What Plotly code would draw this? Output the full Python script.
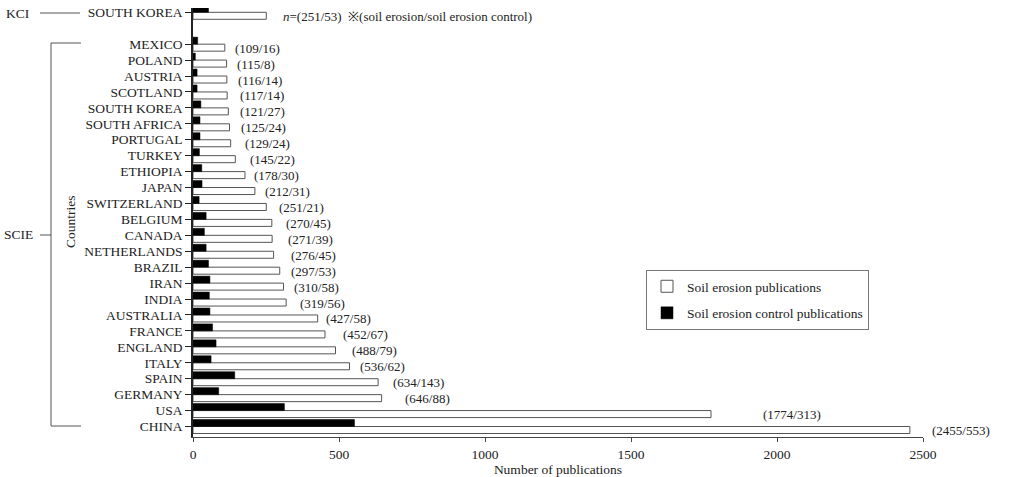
import plotly.graph_objects as go

# ---------------- data ----------------
scie_countries = ["CHINA", "USA", "GERMANY", "SPAIN", "ITALY", "ENGLAND", "FRANCE",
                  "AUSTRALIA", "INDIA", "IRAN", "BRAZIL", "NETHERLANDS", "CANADA",
                  "BELGIUM", "SWITZERLAND", "JAPAN", "ETHIOPIA", "TURKEY", "PORTUGAL",
                  "SOUTH AFRICA", "SOUTH KOREA", "SCOTLAND", "AUSTRIA", "POLAND", "MEXICO"]
scie_erosion = [2455, 1774, 646, 634, 536, 488, 452, 427, 319, 310, 297, 276, 271,
                270, 251, 212, 178, 145, 129, 125, 121, 117, 116, 115, 109]
scie_control = [553, 313, 88, 143, 62, 79, 67, 58, 56, 58, 53, 45, 39,
                45, 21, 31, 30, 22, 24, 24, 27, 14, 14, 8, 16]

kci_country = "SOUTH KOREA"
kci_erosion = 251
kci_control = 53

x_ticks = [0, 500, 1000, 1500, 2000, 2500]

# ---------------- layout helpers ----------------
# label horizontal shifts in pixels (layout only)
label_xshift = [20, 50, 21, 13, 8, 14, 16, 6, 12, 8, 9, 15, 14, 12, 11, 8, 7, 13, 12,
                9, 10, 11, 9, 8, 8]

FONT = "Liberation Serif, Times New Roman, serif"
TXT = "#222222"
W, H = 1031, 477
L, R, T, B = 193, 923, 8, 437


def px(p):
    return (p - L) / (R - L)


def py(q):
    return (B - q) / (B - T)


n = len(scie_countries)
positions = list(range(n)) + [n + 1]
labels = scie_countries + [kci_country]
erosion = scie_erosion + [kci_erosion]
control = scie_control + [kci_control]

fig = go.Figure()
fig.add_trace(go.Bar(
    y=positions, x=erosion, orientation="h", name="Soil erosion publications",
    legendgroup="a",
    marker=dict(color="white", line=dict(color="#555555", width=1)),
))
fig.add_trace(go.Bar(
    y=positions, x=control, orientation="h", name="Soil erosion control publications",
    legendgroup="b",
    marker=dict(color="black", line=dict(color="black", width=0.5)),
))

annotations = []
for i in range(n):
    annotations.append(dict(
        x=scie_erosion[i], y=positions[i], xref="x", yref="y",
        text=f"({scie_erosion[i]}/{scie_control[i]})", showarrow=False,
        xanchor="left", yanchor="middle", xshift=label_xshift[i], yshift=-4,
        font=dict(family=FONT, size=13, color=TXT),
    ))
annotations.append(dict(
    x=kci_erosion, y=n + 1, xref="x", yref="y",
    text=f"<i>n</i>=({kci_erosion}/{kci_control})  ※(soil erosion/soil erosion control)",
    showarrow=False, xanchor="left", yanchor="middle", xshift=15, yshift=-4,
    font=dict(family=FONT, size=13, color=TXT),
))
# left side group labels
annotations += [
    dict(x=px(4), y=py(13), xref="paper", yref="paper", text="KCI", showarrow=False,
         xanchor="left", yanchor="middle", font=dict(family=FONT, size=13.5, color=TXT)),
    dict(x=px(2), y=py(235), xref="paper", yref="paper", text="SCIE", showarrow=False,
         xanchor="left", yanchor="middle", font=dict(family=FONT, size=13.5, color=TXT)),
    dict(x=px(70), y=py(222), xref="paper", yref="paper", text="Countries", showarrow=False,
         textangle=-90, xanchor="center", yanchor="middle",
         font=dict(family=FONT, size=13.5, color=TXT)),
]

line_style = dict(color="#555555", width=1)
shapes = [
    dict(type="line", xref="paper", yref="paper", x0=px(40), x1=px(80), y0=py(13), y1=py(13), line=line_style),
    dict(type="line", xref="paper", yref="paper", x0=px(40), x1=px(51), y0=py(235), y1=py(235), line=line_style),
    dict(type="line", xref="paper", yref="paper", x0=px(51), x1=px(51), y0=py(43), y1=py(426), line=line_style),
    dict(type="line", xref="paper", yref="paper", x0=px(51), x1=px(81), y0=py(43), y1=py(43), line=line_style),
    dict(type="line", xref="paper", yref="paper", x0=px(51), x1=px(81), y0=py(426), y1=py(426), line=line_style),
]

fig.update_layout(
    width=W, height=H,
    margin=dict(l=L, r=W - R, t=T, b=H - B),
    paper_bgcolor="white", plot_bgcolor="white",
    barmode="group", bargap=0.12, bargroupgap=0,
    font=dict(family=FONT, size=13.5, color=TXT),
    showlegend=True,
    legend=dict(
        x=px(646), y=py(270), xanchor="left", yanchor="top",
        bordercolor="#777777", borderwidth=1, bgcolor="white",
        font=dict(family=FONT, size=13.5, color=TXT),
        traceorder="grouped", tracegroupgap=6,
    ),
    annotations=annotations,
    shapes=shapes,
    xaxis=dict(
        range=[0, 2500], tickvals=x_ticks, ticktext=[str(v) for v in x_ticks],
        showline=True, linecolor="#444444", linewidth=1,
        ticks="outside", ticklen=4, tickcolor="#444444",
        ticklabelstandoff=1,
        showgrid=False, zeroline=False, automargin=False,
        title=dict(text="Number of publications", standoff=12,
                   font=dict(family=FONT, size=13.5, color=TXT)),
        tickfont=dict(family=FONT, size=13.5, color=TXT),
    ),
    yaxis=dict(
        range=[-0.66, n + 1.27], tickvals=positions, ticktext=labels,
        showline=True, linecolor="#222222", linewidth=1.5,
        ticks="outside", ticklen=6, tickcolor="#222222",
        showgrid=False, zeroline=False, automargin=False,
        tickfont=dict(family=FONT, size=13.5, color=TXT),
    ),
)

fig.write_html("out.html")
